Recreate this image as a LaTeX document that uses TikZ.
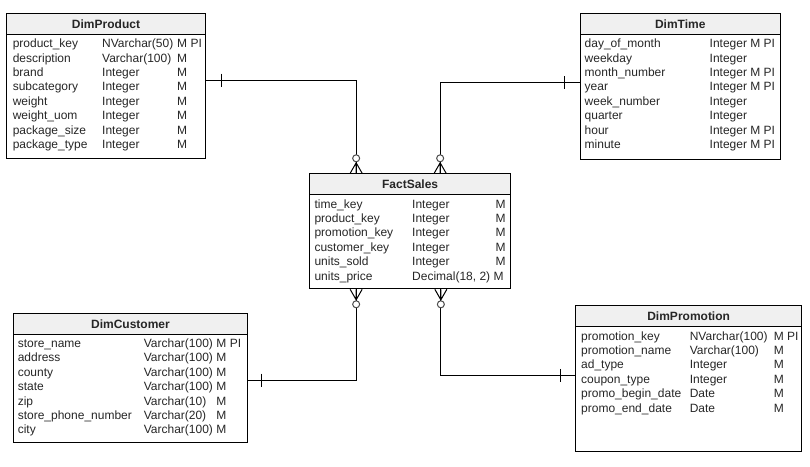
\documentclass[tikz,border=0pt]{standalone}
\usepackage{fontspec}
\setmainfont{Liberation Sans}
\usepackage{array}
\begin{document}
\begin{tikzpicture}[x=1pt,y=-1pt,line width=1pt,
    tblbox/.style={draw,anchor=north west,inner sep=0pt},
    tblhead/.style={draw,fill=gray!12,anchor=north west,inner sep=0pt,minimum height=20.5pt,font=\fontsize{12}{14.4}\selectfont\bfseries,text=black!85},
    tblrows/.style={anchor=north west,inner sep=0pt,font=\fontsize{12}{14.4}\selectfont,text=black!85},
    erline/.style={draw=black},
    zeromany/.pic={\draw[fill=white,draw=black!70] (0,-15) circle[radius=3.5];
                   \draw (-6,0) -- (0,-10.5) -- (6,0) (0,0) -- (0,-10.5);},
    onetick/.pic={\draw (0,-6.5) -- (0,6.5);}]
\useasboundingbox (0,0) rectangle (810,466);

% DimProduct
\node[tblbox,minimum width=199pt,minimum height=145pt] (prod) at (6,13) {};
\node[tblhead,minimum width=199pt] (prodh) at (6,13) {DimProduct};
\node[tblrows] (prodf) at ([shift={(6.3,2.7)}]prodh.south west) {%
  \begin{tabular}{@{}p{89.4pt}@{}p{75pt}@{}l@{}}
  product\_key & NVarchar(50) & M PI\\
  description & Varchar(100) & M\\
  brand & Integer & M\\
  subcategory & Integer & M\\
  weight & Integer & M\\
  weight\_uom & Integer & M\\
  package\_size & Integer & M\\
  package\_type & Integer & M
  \end{tabular}};

% DimTime
\node[tblbox,minimum width=200.5pt,minimum height=146pt] (time) at (579.5,13) {};
\node[tblhead,minimum width=200.5pt] (timeh) at (579.5,13) {DimTime};
\node[tblrows] (timef) at ([shift={(4.7,2.7)}]timeh.south west) {%
  \begin{tabular}{@{}p{125pt}@{}l@{}}
  day\_of\_month & Integer M PI\\
  weekday & Integer\\
  month\_number & Integer M PI\\
  year & Integer M PI\\
  week\_number & Integer\\
  quarter & Integer\\
  hour & Integer M PI\\
  minute & Integer M PI
  \end{tabular}};

% FactSales
\node[tblbox,minimum width=200.7pt,minimum height=115pt] (fact) at (309.3,173.3) {};
\node[tblhead,minimum width=200.7pt] (facth) at (309.3,173.3) {FactSales};
\node[tblrows] (factf) at ([shift={(4.7,2.7)}]facth.south west) {%
  \begin{tabular}{@{}p{97.7pt}@{}p{83.3pt}@{}l@{}}
  time\_key & Integer & M\\
  product\_key & Integer & M\\
  promotion\_key & Integer & M\\
  customer\_key & Integer & M\\
  units\_sold & Integer & M\\
  units\_price & \multicolumn{2}{@{}l@{}}{Decimal(18, 2) M}
  \end{tabular}};

% DimCustomer
\node[tblbox,minimum width=233.4pt,minimum height=128.7pt] (cust) at (13.3,313) {};
\node[tblhead,minimum width=233.4pt] (custh) at (13.3,313) {DimCustomer};
\node[tblrows] (custf) at ([shift={(4,2.4)}]custh.south west) {%
  \begin{tabular}{@{}p{126pt}@{}p{72.7pt}@{}l@{}}
  store\_name & Varchar(100) & M PI\\
  address & Varchar(100) & M\\
  county & Varchar(100) & M\\
  state & Varchar(100) & M\\
  zip & Varchar(10) & M\\
  store\_phone\_number & Varchar(20) & M\\
  city & Varchar(100) & M
  \end{tabular}};

% DimPromotion
\node[tblbox,minimum width=226.3pt,minimum height=145.7pt] (promo) at (575,305) {};
\node[tblhead,minimum width=226.3pt] (promoh) at (575,305) {DimPromotion};
\node[tblrows] (promof) at ([shift={(5.7,3)}]promoh.south west) {%
  \begin{tabular}{@{}p{108.6pt}@{}p{84pt}@{}l@{}}
  promotion\_key & NVarchar(100) & M PI\\
  promotion\_name & Varchar(100) & M\\
  ad\_type & Integer & M\\
  coupon\_type & Integer & M\\
  promo\_begin\_date & Date & M\\
  promo\_end\_date & Date & M
  \end{tabular}};

% relations
\draw[erline] (prod.east |- 0,80) -| ([xshift=-54pt]fact.north);
\draw[erline] (time.west |- 0,82.5) -| ([xshift=30pt]fact.north);
\draw[erline] (cust.east |- 0,380) -| ([xshift=-54pt]fact.south);
\draw[erline] (promo.west |- 0,375.3) -| ([xshift=30.7pt]fact.south);
\path ([xshift=15pt]prod.east |- 0,80) pic{onetick};
\path ([xshift=-15pt]time.west |- 0,82.5) pic{onetick};
\path ([xshift=14pt]cust.east |- 0,380) pic{onetick};
\path ([xshift=-14.3pt]promo.west |- 0,375.3) pic{onetick};
\path ([xshift=-54pt]fact.north) pic{zeromany};
\path ([xshift=30pt]fact.north) pic{zeromany};
\path ([xshift=-54pt]fact.south) pic[rotate=180]{zeromany};
\path ([xshift=30.7pt]fact.south) pic[rotate=180]{zeromany};
\end{tikzpicture}
\end{document}
